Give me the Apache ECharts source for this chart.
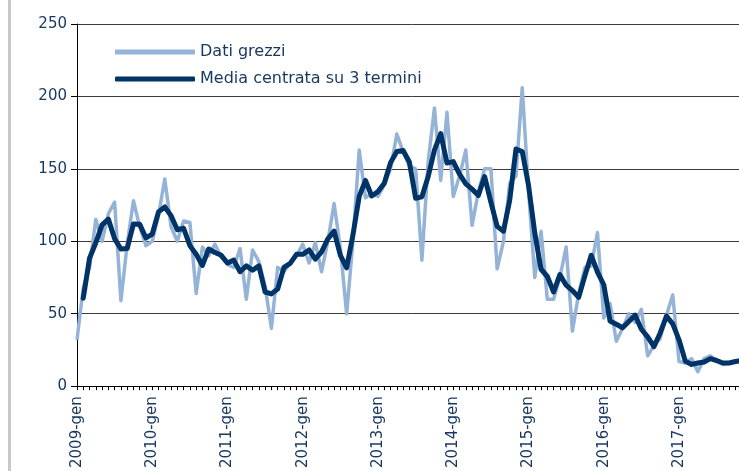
<!DOCTYPE html>
<html>
<head>
<meta charset="utf-8">
<script src="https://cdn.jsdelivr.net/npm/echarts@6/dist/echarts.min.js"></script>
<style>
html,body{margin:0;padding:0;background:#fff;}
#wrap{position:relative;width:739px;height:471px;overflow:hidden;}
#chart{position:absolute;left:0;top:0;width:748px;height:471px;}
</style>
</head>
<body>
<div id="wrap"><div id="chart"></div></div>
<script>
// Category pieces (2009-gen ... 2017-dic)
var years = [2009, 2010, 2011, 2012, 2013, 2014, 2015, 2016, 2017];
var months = ['gen','feb','mar','apr','mag','giu','lug','ago','set','ott','nov','dic'];

// Y-axis ticks
var yTicks = [0, 50, 100, 150, 200, 250];

// Series names
var seriesNames = ['Dati grezzi', 'Media centrata su 3 termini'];

// Dati grezzi (monthly raw values)
var rawValues = [
  32, 68, 82, 115, 100, 119, 127, 59, 98, 128, 110, 97,
  100, 118, 143, 110, 100, 114, 113, 64, 96, 90, 98, 89,
  84, 82, 95, 60, 94, 86, 69, 40, 82, 79, 85, 90,
  98, 85, 99, 79, 100, 126, 95, 50, 100, 163, 130, 133,
  131, 139, 150, 174, 162, 152, 150, 87, 155, 192, 142, 189,
  131, 145, 163, 111, 134, 150, 150, 81, 100, 140, 145, 206,
  135, 75, 107, 60, 60, 75, 96, 38, 64, 82, 83, 106,
  47, 57, 31, 40, 50, 44, 53, 21, 28, 33, 49, 63,
  17, 16, 19, 10, 19, 21, 17, 15, 16, 17, 18, 18
];

// Media centrata su 3 termini
var smoothValues = [
  null, 60.7, 88.3, 99, 111.3, 115.3, 101.7, 94.7, 95, 112, 111.7, 102.3,
  105, 120.3, 123.7, 117.7, 108, 109, 97, 91, 83.3, 94.7, 92.3, 90.3,
  85, 87, 79, 83, 80, 83, 65, 63.7, 67, 82, 84.7, 91,
  91, 94, 87.7, 92.7, 101.7, 107, 90.3, 81.7, 104.3, 131, 142, 131.3,
  134.3, 140, 154.3, 162, 162.7, 154.7, 129.7, 130.7, 144.7, 163, 174.3, 154,
  155, 146.3, 139.7, 136, 131.7, 144.7, 127, 110.3, 107, 128.3, 163.7, 162,
  138.7, 105.7, 80.7, 75.7, 65, 77, 69.7, 66, 61.3, 76.3, 90.3, 78.7,
  70, 45, 42.7, 40.3, 44.7, 49, 39.3, 34, 27.3, 36.7, 48.3, 43,
  32, 17.3, 15, 16, 16.7, 19, 17.7, 16, 16, 17, 17.7, 18
];

var categories = [];
years.forEach(function (y) {
  months.forEach(function (m) { categories.push(y + '-' + m); });
});

var navy = '#17375e';
var lightBlue = '#95b3d7';
var darkBlue = '#003366';
var chart = echarts.init(document.getElementById('chart'), null, {renderer: 'canvas'});
chart.setOption({
  animation: false,
  backgroundColor: '#ffffff',
  textStyle: {fontFamily: 'DejaVu Sans'},
  graphic: [{
    type: 'rect', left: 8, top: 0,
    shape: {width: 3, height: 471},
    style: {fill: '#c9c9c9'}, silent: true
  }],
  grid: {left: 77, top: 24, bottom: 83, right: 0, containLabel: false},
  legend: {
    orient: 'vertical',
    left: 115, top: 44, padding: 0,
    itemWidth: 80, itemHeight: 5, itemGap: 11,
    textStyle: {fontFamily: 'DejaVu Sans', fontSize: 16, color: navy},
    data: [
      {name: seriesNames[0], icon: 'rect', itemStyle: {color: lightBlue}},
      {name: seriesNames[1], icon: 'roundRect', itemStyle: {color: darkBlue}}
    ]
  },
  xAxis: {
    type: 'category',
    data: categories,
    boundaryGap: false,
    axisLine: {lineStyle: {color: '#000', width: 1}},
    axisTick: {show: true, interval: 0, length: 4, lineStyle: {color: '#000'}},
    axisLabel: {
      interval: 11, rotate: 90, margin: 10,
      fontFamily: 'DejaVu Sans', fontSize: 15, color: navy
    },
    splitLine: {show: false}
  },
  yAxis: {
    type: 'value',
    min: yTicks[0], max: yTicks[yTicks.length - 1], interval: 50,
    axisLine: {show: true, lineStyle: {color: '#000', width: 1}},
    axisTick: {show: true, length: 6, lineStyle: {color: '#000'}},
    axisLabel: {fontFamily: 'DejaVu Sans', fontSize: 15, color: navy, margin: 10},
    splitLine: {show: true, lineStyle: {color: '#3a3a3a', width: 1}}
  },
  series: [
    {
      name: seriesNames[0], type: 'line', data: rawValues,
      symbol: 'none', smooth: false,
      lineStyle: {color: lightBlue, width: 3.5, join: 'round'},
      itemStyle: {color: lightBlue}
    },
    {
      name: seriesNames[1], type: 'line', data: smoothValues,
      symbol: 'none', smooth: false, connectNulls: false,
      lineStyle: {color: darkBlue, width: 5, join: 'round', cap: 'round'},
      itemStyle: {color: darkBlue}
    }
  ]
});
</script>
</body>
</html>
